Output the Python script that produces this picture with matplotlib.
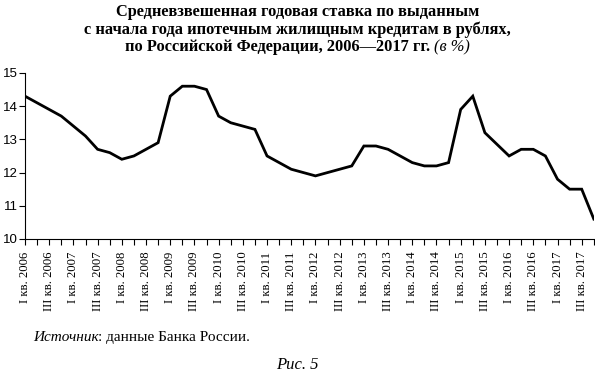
import numpy as np
import matplotlib
matplotlib.use("Agg")
import matplotlib.pyplot as plt

# quarterly rates, I кв. 2006 ... IV кв. 2017
rates_2006 = [14.3, 14.1, 13.9, 13.7]
rates_2007 = [13.4, 13.1, 12.7, 12.6]
rates_2008 = [12.4, 12.5, 12.7, 12.9]
rates_2009 = [14.3, 14.6, 14.6, 14.5]
rates_2010 = [13.7, 13.5, 13.4, 13.3]
rates_2011 = [12.5, 12.3, 12.1, 12.0]
rates_2012 = [11.9, 12.0, 12.1, 12.2]
rates_2013 = [12.8, 12.8, 12.7, 12.5]
rates_2014 = [12.3, 12.2, 12.2, 12.3]
rates_2015 = [13.9, 14.3, 13.2, 12.85]
rates_2016 = [12.5, 12.7, 12.7, 12.5]
rates_2017 = [11.8, 11.5, 11.5, 10.6]
rates = (rates_2006 + rates_2007 + rates_2008 + rates_2009 + rates_2010 + rates_2011
         + rates_2012 + rates_2013 + rates_2014 + rates_2015 + rates_2016 + rates_2017)
years = list(range(2006, 2018))
tick_labels = []
for y in years:
    tick_labels += ["I кв. %d" % y, "III кв. %d" % y]

serif = "Liberation Serif"
sans = "Liberation Sans"

fig = plt.figure(figsize=(5.95, 3.74), dpi=100)
ax = fig.add_axes([0.042, 0.361, 0.956, 0.444])

x = np.arange(len(rates))
ax.plot(x, rates, color="black", lw=2.0, solid_joinstyle="miter")
ax.set_xlim(0, len(rates) - 1)
ax.set_ylim(10, 15)
ax.set_yticks(range(10, 16))
ax.set_yticklabels([str(v) for v in range(10, 16)], family=sans, fontsize=9.5)
ax.set_xticks(x)
ax.set_xticklabels([tick_labels[i // 2] if i % 2 == 0 else "" for i in x],
                   rotation=90, family=serif, fontsize=9.2)
ax.tick_params(axis="x", length=4, width=0.8, pad=5)
ax.tick_params(axis="y", length=4, width=0.8, pad=1)
for s in ["top", "right"]:
    ax.spines[s].set_visible(False)
for s in ["left", "bottom"]:
    ax.spines[s].set_linewidth(0.8)

# title
fig.text(0.5, 0.968, "Средневзвешенная годовая ставка по выданным",
         ha="center", va="center", family=serif, weight="bold", fontsize=11.8)
fig.text(0.5, 0.920, "с начала года ипотечным жилищным кредитам в рублях,",
         ha="center", va="center", family=serif, weight="bold", fontsize=11.8)
t1 = fig.text(0, 0.874, "по Российской Федерации, 2006—2017 гг. ",
              ha="left", va="center", family=serif, weight="bold", fontsize=11.8)
t2 = fig.text(0, 0.874, "(в %)", ha="left", va="center", family=serif,
              style="italic", fontsize=11.8)
fig.canvas.draw()
r = fig.canvas.get_renderer()
w1 = t1.get_window_extent(r).width / fig.bbox.width
w2 = t2.get_window_extent(r).width / fig.bbox.width
start = 0.5 - (w1 + w2) / 2
t1.set_x(start)
t2.set_x(start + w1)

# source
s1 = fig.text(0.055, 0.097, "Источник", ha="left", va="center", family=serif,
              style="italic", fontsize=11)
fig.canvas.draw()
ws = s1.get_window_extent(r).width / fig.bbox.width
fig.text(0.055 + ws, 0.097, ": данные Банка России.", ha="left", va="center",
         family=serif, fontsize=11)
fig.text(0.5, 0.025, "Рис. 5", ha="center", va="center", family=serif,
         style="italic", fontsize=12)

fig.savefig("out.png", dpi=100)
